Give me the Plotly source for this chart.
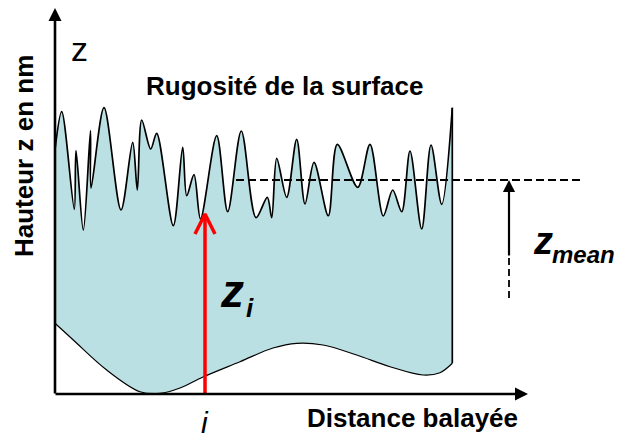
import plotly.graph_objects as go

# Surface roughness profile (distance along the scan, height)
top_x = [55, 61.7, 74.3, 76, 83.3, 90.5, 91, 104, 121, 132.7, 137.3, 141.7, 150.7,
         156.7, 173.3, 182.7, 186.7, 194, 200.5, 216.7, 227.7, 241.3, 256, 267.3,
         271.7, 276.7, 286.7, 296.7, 305, 314, 328.3, 337.3, 357.7, 370, 383.3,
         392.7, 401.7, 410, 421.7, 431, 441.7, 452.3]
top_z = [288, 326.3, 228.7, 287.3, 208, 307.3, 250, 330.3, 228, 295.7, 248, 318, 289,
         304.7, 212.3, 290.7, 242.3, 263.3, 219, 302.3, 226.3, 307, 220.3, 240.7,
         220.3, 279.7, 240.7, 298.7, 234, 275.7, 222.3, 293.7, 250.7, 293.7, 222,
         248, 226.3, 287, 209, 293, 233.7, 330.3]

# Lower boundary of the sample (substrate waviness)
base_x = [55, 73.3, 106.7, 140, 160, 180, 203, 240, 273, 296.7, 323, 356.7, 390, 423, 440, 452.3]
base_z = [114.7, 98, 68, 46.3, 44.7, 50, 61, 76.3, 90, 94.7, 93, 83, 71.3, 63, 65.3, 74.7]

# Mean height and the sample position i
z_mean = 258
i_pos = 205
z_i = 219

FONT = "Liberation Sans, Arial, sans-serif"
BLACK = "#000000"
FILL = "#BBE0E3"

fig = go.Figure()

# Lower boundary curve
fig.add_trace(go.Scatter(
    x=base_x, y=base_z, mode="lines",
    line=dict(color=BLACK, width=1.2, shape="spline", smoothing=1.0),
    hoverinfo="skip", showlegend=False))

# Rough top surface, filled down to the lower boundary
fig.add_trace(go.Scatter(
    x=top_x, y=top_z, mode="lines", fill="tonexty", fillcolor=FILL,
    line=dict(color=BLACK, width=1.7, shape="spline", smoothing=0.9),
    hoverinfo="skip", showlegend=False))

# Right edge of the sample
fig.add_trace(go.Scatter(
    x=[top_x[-1], base_x[-1]], y=[top_z[-1], base_z[-1]], mode="lines",
    line=dict(color=BLACK, width=1.7), hoverinfo="skip", showlegend=False))

x_axis_y = 44
y_axis_x = 55

# Red arrow marking z_i at position i
fig.add_trace(go.Scatter(
    x=[i_pos, i_pos], y=[x_axis_y, z_i + 5], mode="lines",
    line=dict(color="#FF0000", width=3.5), hoverinfo="skip", showlegend=False))
fig.add_trace(go.Scatter(
    x=[i_pos - 10, i_pos, i_pos + 10], y=[z_i + 5 - 20, z_i + 5, z_i + 5 - 20], mode="lines",
    line=dict(color="#FF0000", width=3.5), hoverinfo="skip", showlegend=False))

shapes = [
    # mean height level
    dict(type="line", xref="x", yref="y", x0=236, x1=582, y0=z_mean, y1=z_mean,
         line=dict(color=BLACK, width=1.8, dash="8px,4px")),
    # dashed stem under the z_mean arrow
    dict(type="line", xref="x", yref="y", x0=509, x1=509, y0=140, y1=181,
         line=dict(color=BLACK, width=1.8, dash="7px,4px")),
]

annotations = [
    # axes with arrowheads
    dict(x=y_axis_x, y=430, ax=y_axis_x, ay=x_axis_y - 1, xref="x", yref="y", axref="x", ayref="y",
         showarrow=True, arrowhead=2, arrowsize=1.0, arrowwidth=2.6, arrowcolor=BLACK, text=""),
    dict(x=528, y=x_axis_y, ax=y_axis_x - 1, ay=x_axis_y, xref="x", yref="y", axref="x", ayref="y",
         showarrow=True, arrowhead=2, arrowsize=1.0, arrowwidth=2.6, arrowcolor=BLACK, text=""),
    # z_mean arrow
    dict(x=509, y=z_mean, ax=509, ay=181, xref="x", yref="y", axref="x", ayref="y",
         showarrow=True, arrowhead=2, arrowsize=1.1, arrowwidth=2.2, arrowcolor=BLACK, text=""),
    # texts
    dict(x=284.5, y=352, xref="x", yref="y", showarrow=False,
         text="<b>Rugosité de la surface</b>", font=dict(family=FONT, size=26, color=BLACK)),
    dict(x=24, y=282, xref="x", yref="y", showarrow=False, textangle=-90,
         text="<b>Hauteur z en nm</b>", font=dict(family=FONT, size=26, color=BLACK)),
    dict(x=79, y=389, xref="x", yref="y", showarrow=False,
         text="z", font=dict(family=FONT, size=34, color=BLACK)),
    dict(x=412, y=20, xref="x", yref="y", showarrow=False,
         text="<b>Distance balayée</b>", font=dict(family=FONT, size=26, color=BLACK)),
    dict(x=i_pos, y=16, xref="x", yref="y", showarrow=False,
         text="<i>i</i>", font=dict(family=FONT, size=30, color=BLACK)),
    dict(x=232, y=147, xref="x", yref="y", showarrow=False,
         text="<b><i>z</i></b>", font=dict(family=FONT, size=46, color=BLACK)),
    dict(x=250, y=130, xref="x", yref="y", showarrow=False,
         text="<b><i>i</i></b>", font=dict(family=FONT, size=26, color=BLACK)),
    dict(x=543, y=197, xref="x", yref="y", showarrow=False,
         text="<b><i>z</i></b>", font=dict(family=FONT, size=38, color=BLACK)),
    dict(x=583, y=184, xref="x", yref="y", showarrow=False,
         text="<b><i>mean</i></b>", font=dict(family=FONT, size=24, color=BLACK)),
]

fig.update_layout(
    width=617, height=438,
    margin=dict(l=0, r=0, t=0, b=0),
    paper_bgcolor="white", plot_bgcolor="white",
    xaxis=dict(range=[0, 617], visible=False, fixedrange=True),
    yaxis=dict(range=[0, 438], visible=False, fixedrange=True),
    shapes=shapes, annotations=annotations,
    showlegend=False,
)

fig.write_html("out.html")
